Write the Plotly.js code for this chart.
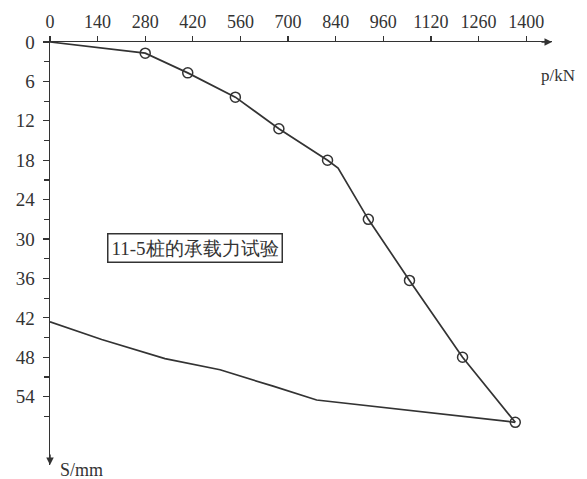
<!DOCTYPE html>
<html>
<head>
<meta charset="utf-8">
<script src="https://cdn.plot.ly/plotly-3.0.1.min.js"></script>
<style>html,body{margin:0;padding:0;background:#fff;}#chart{width:587px;height:479px;}</style>
</head>
<body>
<div id="chart"></div>
<script>
// Loading curve vertices (p in kN, s in mm)
const loadP = [0, 280, 405, 545, 673, 816, 847, 936, 1057, 1213, 1368];
const loadS = [0, 1.7, 4.7, 8.4, 13.2, 18.0, 19.2, 27.0, 36.3, 48.0, 57.9];
// Test points (open circles)
const testP = [280, 405, 545, 673, 816, 936, 1057, 1213, 1368];
const testS = [1.7, 4.7, 8.4, 13.2, 18.0, 27.0, 36.3, 48.0, 57.9];
// Unloading curve
const unloadP = [1368, 853, 784, 656, 500, 338, 152, 0];
const unloadS = [57.9, 55.0, 54.5, 52.4, 49.9, 48.2, 45.3, 42.6];
// Axis ticks
const xTickVals = [0, 140, 280, 420, 560, 700, 840, 980, 1120, 1260, 1400];
const xTickText = ["0", "140", "280", "420", "560", "700", "840", "960", "1120", "1260", "1400"];
const yTickVals = [0, 6, 12, 18, 24, 30, 36, 42, 48, 54];
const yMinorVals = [3, 9, 15, 21, 27, 33, 39, 45, 51, 57];
const boxLabel = "11-5桩的承载力试验";

const ink = "#333333";
const serif = "Times New Roman";

const traces = [
  {x: loadP, y: loadS, mode: "lines", line: {color: ink, width: 1.7}, hoverinfo: "skip"},
  {x: unloadP, y: unloadS, mode: "lines", line: {color: ink, width: 1.7}, hoverinfo: "skip"},
  {x: testP, y: testS, mode: "markers",
   marker: {symbol: "circle-open", size: 10, color: ink, line: {width: 1.5, color: ink}}}
];

const layout = {
  width: 587, height: 479,
  margin: {l: 50, r: 35, t: 42, b: 14},
  paper_bgcolor: "#fff", plot_bgcolor: "#fff",
  showlegend: false,
  font: {family: serif, color: ink, size: 18},
  xaxis: {
    side: "top", range: [0, 1476], showgrid: false, zeroline: false,
    showline: true, linecolor: ink, linewidth: 1.5,
    ticks: "outside", ticklen: 5, tickwidth: 1.2, tickcolor: ink,
    tickmode: "array", tickvals: xTickVals, ticktext: xTickText,
    tickfont: {size: 18, color: ink}
  },
  yaxis: {
    range: [64.4, 0], showgrid: false, zeroline: false,
    showline: true, linecolor: ink, linewidth: 1.5,
    ticks: "outside", ticklen: 6, tickwidth: 1.2, tickcolor: ink,
    tickmode: "array", tickvals: yTickVals, ticklabelstandoff: 4,
    tickfont: {size: 19, color: ink},
    minor: {tickmode: "array", tickvals: yMinorVals, ticks: "outside", ticklen: 5, tickwidth: 1.2, tickcolor: ink, showgrid: false}
  },
  annotations: [
    {x: 1476, y: 0, xref: "x", yref: "y", ax: -12, ay: 0, text: "", showarrow: true,
     arrowhead: 2, arrowsize: 1, arrowwidth: 1.5, arrowcolor: ink},
    {x: 0, y: 64.4, xref: "x", yref: "y", ax: 0, ay: -12, text: "", showarrow: true,
     arrowhead: 2, arrowsize: 1, arrowwidth: 1.5, arrowcolor: ink},
    {x: 1.012, y: 0.92, xref: "paper", yref: "paper", text: "p/kN", showarrow: false,
     xanchor: "center", yanchor: "middle", font: {family: serif, size: 17, color: ink}},
    {x: 0.016, y: -0.012, xref: "paper", yref: "paper", text: "S/mm", showarrow: false,
     xanchor: "left", yanchor: "middle", font: {family: serif, size: 18, color: ink}},
    {x: 425, y: 31.4, xref: "x", yref: "y", text: boxLabel, showarrow: false,
     xanchor: "center", yanchor: "middle",
     font: {family: serif, size: 19, color: ink},
     bordercolor: ink, borderwidth: 1.5, borderpad: 3, bgcolor: "#fff"}
  ]
};

Plotly.newPlot("chart", traces, layout, {staticPlot: true, displayModeBar: false});
</script>
</body>
</html>
